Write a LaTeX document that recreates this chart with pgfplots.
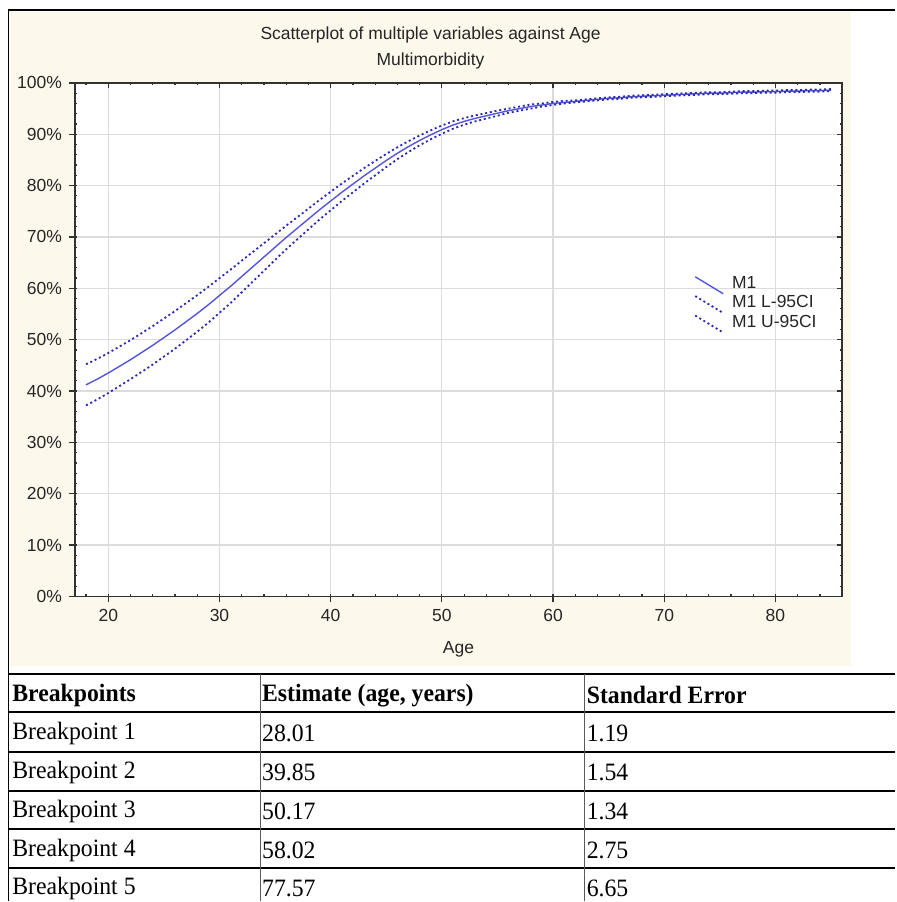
\documentclass[border=0pt]{standalone}
\usepackage{fontspec}
\setmainfont{Liberation Sans}
\newfontfamily\tabfont{Liberation Serif}
\usepackage{pgfplots}
\pgfplotsset{compat=1.18}
\usepackage{pgfplotstable}
\definecolor{cream}{RGB}{253,248,236}
\definecolor{mone}{RGB}{85,85,215}
\definecolor{ci}{RGB}{40,40,185}
\definecolor{gridc}{RGB}{220,220,220}
\definecolor{axc}{RGB}{50,50,50}
\definecolor{vline}{RGB}{90,90,90}

\pgfplotstableread{
age m1 lo hi
18 41.2 37.2 45.2
19 42.3 38.35 46.25
20 43.5 39.6 47.4
21 44.8 40.95 48.65
22 46.1 42.3 49.9
23 47.5 43.72 51.28
24 48.9 45.16 52.64
25 50.4 46.7 54.1
26 51.9 48.24 55.56
27 53.5 49.88 57.12
28 55.1 51.54 58.66
29 56.8 53.32 60.28
30 58.6 55.22 61.98
31 60.4 57.15 63.65
32 62.3 59.22 65.38
33 64.2 61.32 67.08
34 66.1 63.42 68.78
35 68.0 65.52 70.48
36 69.9 67.6 72.2
37 71.7 69.55 73.85
38 73.5 71.48 75.52
39 75.3 73.4 77.2
40 77.0 75.2 78.8
41 78.7 77.0 80.4
42 80.3 78.7 81.9
43 81.9 80.4 83.4
44 83.4 82.0 84.8
45 84.9 83.62 86.18
46 86.3 85.14 87.46
47 87.6 86.55 88.65
48 88.8 87.85 89.75
49 89.9 89.03 90.77
50 90.9 90.1 91.7
51 91.8 91.08 92.52
52 92.5 91.86 93.14
53 93.1 92.52 93.68
54 93.6 93.07 94.13
55 94.1 93.6 94.6
56 94.6 94.2 95.0
57 95.0 94.6 95.4
58 95.4 95.0 95.8
59 95.7 95.4 96.0
60 96.0 95.7 96.3
61 96.2 96.0 96.5
62 96.4 96.2 96.6
63 96.6 96.4 96.8
64 96.8 96.6 97.0
65 97.0 96.8 97.2
66 97.1 96.9 97.3
67 97.3 97.1 97.5
68 97.4 97.2 97.6
69 97.5 97.3 97.7
70 97.6 97.4 97.8
71 97.7 97.5 97.9
72 97.8 97.6 98.0
73 97.9 97.7 98.1
74 98.0 97.8 98.2
75 98.0 97.8 98.2
76 98.1 97.9 98.3
77 98.2 98.0 98.4
78 98.2 98.0 98.4
79 98.3 98.1 98.5
80 98.3 98.1 98.5
81 98.4 98.2 98.6
82 98.4 98.2 98.6
83 98.5 98.3 98.7
84 98.5 98.3 98.7
85 98.6 98.4 98.8
}\data

\newcommand{\cf}{\fontsize{8.75}{10.5}\selectfont}
\newcommand{\tf}{\tabfont\fontsize{12.5}{15}\selectfont}
\newcommand{\tc}[1]{\scalebox{0.95}[1]{#1}}

\begin{document}
\begin{tikzpicture}
\begin{scope}[x=0.5pt,y=-0.5pt]
\useasboundingbox (0,0) rectangle (896,902);
\fill[white] (0,0) rectangle (896,902);
\fill[cream] (10,12) rectangle (852,667);
\end{scope}

\pgfplotsset{myax/.style={
  scale only axis, width=384pt, height=257pt,
  at={(37.5pt,-298.5pt)}, anchor=south west,
  xmin=17, xmax=86, ymin=0, ymax=100,
  xtick={20,30,...,80}, ytick={0,10,...,100},
  axis line style={axc, line width=0.75pt},
  tick style={axc, line width=0.6pt},
  /pgf/number format/assume math mode=true,
}}

\begin{axis}[myax,
  axis background/.style={fill=white},
  grid=major, grid style={gridc, line width=0.6pt},
  xtick pos=left, ytick pos=left, tick align=outside,
  major tick length=3pt,
  tick label style={font=\cf, text=black!85},
  yticklabel={\pgfmathprintnumber{\tick}\%},
  xlabel={Age},
  xlabel style={font=\cf, text=black!85, at={(axis description cs:0.5,-0.103)}, anchor=center},
  legend image code/.code={\draw[#1] (0pt,3.5pt) -- (14pt,-5pt);},
  legend style={at={(0.799,0.634)}, anchor=north west, draw=none, fill=none,
    font=\cf, text=black!85, row sep=0pt, column sep=3.5pt,
    nodes={inner sep=0.5pt}},
  legend cell align=left,
]
\addplot[mone, line width=0.7pt] table[x=age, y=m1] {\data};
\addlegendentry{M1}
\addplot[ci, line width=0.9pt, dash pattern=on 1pt off 1.4pt] table[x=age, y=lo] {\data};
\addlegendentry{M1 L-95CI}
\addplot[ci, line width=0.9pt, dash pattern=on 1pt off 1.4pt] table[x=age, y=hi] {\data};
\addlegendentry{M1 U-95CI}
\end{axis}

\begin{axis}[myax, xtick pos=right, ytick pos=right, tick align=inside,
  major tick length=2.5pt, xticklabels={}, yticklabels={}]
\end{axis}

\begin{axis}[myax, xtick pos=both, ytick pos=both, tick align=inside,
  major tick length=0pt, minor tick length=1.2pt,
  minor xtick={18,20,...,84}, minor ytick={0,2,...,100},
  xticklabels={}, yticklabels={}]
\end{axis}

\begin{scope}[x=0.5pt,y=-0.5pt]
% titles
\node[font=\cf, text=black!85] at (431,35) {Scatterplot of multiple variables against Age};
\node[font=\cf, text=black!85] at (431,61) {Multimorbidity};
% outer border
\draw[black, line width=1pt] (8,10) -- (896,10);
\draw[black, line width=0.9pt] (8.5,10) -- (8.5,902);
% table lines
\foreach \yy in {675,712.7,752.3,791.3,830,869}
  \draw[black, line width=1pt] (8,\yy) -- (896,\yy);
\draw[vline, line width=0.7pt] (260.7,675) -- (260.7,902);
\draw[vline, line width=0.7pt] (585,675) -- (585,902);
% table text
\node[anchor=west, inner sep=0pt, font=\tf\bfseries] at (12,696) {\tc{Breakpoints}};
\node[anchor=west, inner sep=0pt, font=\tf\bfseries] at (262,696) {\tc{Estimate (age, years)}};
\node[anchor=west, inner sep=0pt, font=\tf\bfseries] at (587,696) {\tc{Standard Error}};
\node[anchor=west, inner sep=0pt, font=\tf] at (12,734) {\tc{Breakpoint 1}};
\node[anchor=west, inner sep=0pt, font=\tf] at (262,734) {\tc{28.01}};
\node[anchor=west, inner sep=0pt, font=\tf] at (587,734) {\tc{1.19}};
\node[anchor=west, inner sep=0pt, font=\tf] at (12,773) {\tc{Breakpoint 2}};
\node[anchor=west, inner sep=0pt, font=\tf] at (262,773) {\tc{39.85}};
\node[anchor=west, inner sep=0pt, font=\tf] at (587,773) {\tc{1.54}};
\node[anchor=west, inner sep=0pt, font=\tf] at (12,812) {\tc{Breakpoint 3}};
\node[anchor=west, inner sep=0pt, font=\tf] at (262,812) {\tc{50.17}};
\node[anchor=west, inner sep=0pt, font=\tf] at (587,812) {\tc{1.34}};
\node[anchor=west, inner sep=0pt, font=\tf] at (12,851) {\tc{Breakpoint 4}};
\node[anchor=west, inner sep=0pt, font=\tf] at (262,851) {\tc{58.02}};
\node[anchor=west, inner sep=0pt, font=\tf] at (587,851) {\tc{2.75}};
\node[anchor=west, inner sep=0pt, font=\tf] at (12,889) {\tc{Breakpoint 5}};
\node[anchor=west, inner sep=0pt, font=\tf] at (262,889) {\tc{77.57}};
\node[anchor=west, inner sep=0pt, font=\tf] at (587,889) {\tc{6.65}};
\end{scope}
\end{tikzpicture}
\end{document}
